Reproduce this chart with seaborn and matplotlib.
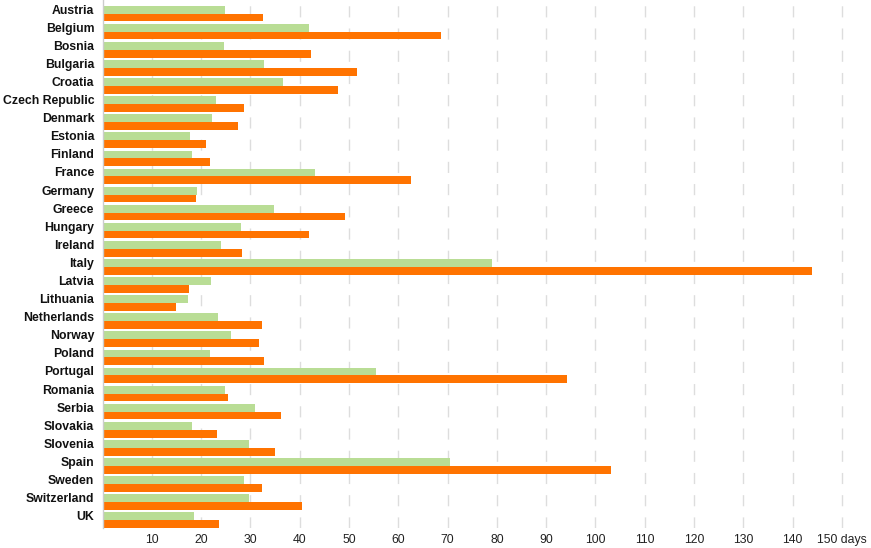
import matplotlib
matplotlib.use("Agg")
import matplotlib.pyplot as plt
import matplotlib.transforms as mtransforms
import seaborn as sns
import pandas as pd

countries = ["Austria", "Belgium", "Bosnia", "Bulgaria", "Croatia", "Czech Republic",
             "Denmark", "Estonia", "Finland", "France", "Germany", "Greece", "Hungary",
             "Ireland", "Italy", "Latvia", "Lithuania", "Netherlands", "Norway", "Poland",
             "Portugal", "Romania", "Serbia", "Slovakia", "Slovenia", "Spain", "Sweden",
             "Switzerland", "UK"]
series_green = [24.8, 41.9, 24.6, 32.7, 36.6, 23.0, 22.2, 17.7, 18.1, 43.1, 19.1, 34.8, 28.1,
                24.0, 79.0, 22.0, 17.3, 23.4, 26.0, 21.8, 55.4, 24.8, 30.9, 18.1, 29.7, 70.5,
                28.7, 29.7, 18.5]
series_orange = [32.5, 68.6, 42.3, 51.6, 47.8, 28.7, 27.5, 21.0, 21.8, 62.6, 18.9, 49.2, 41.9,
                 28.3, 143.9, 17.5, 14.9, 32.3, 31.7, 32.7, 94.2, 25.4, 36.2, 23.2, 35.0, 103.1,
                 32.3, 40.4, 23.6]
series_names = ["Series A", "Series B"]
x_ticks = [10, 20, 30, 40, 50, 60, 70, 80, 90, 100, 110, 120, 130, 140, 150]
x_tick_labels = ["10", "20", "30", "40", "50", "60", "70", "80", "90", "100", "110", "120",
                 "130", "140", "150 days"]

df = pd.DataFrame({
    "country": countries * 2,
    "days": series_green + series_orange,
    "series": [series_names[0]] * len(countries) + [series_names[1]] * len(countries),
})

sns.set_theme(style="white")
plt.rcParams["font.family"] = ["Liberation Sans", "DejaVu Sans"]

fig = plt.figure(figsize=(8.71, 5.48), dpi=100)
ax = fig.add_axes([0.1178, 0.0365, 0.877, 0.9635])

sns.barplot(data=df, y="country", x="days", hue="series", orient="h",
            palette=["#b9dd95", "#ff7300"], saturation=1, width=0.86, gap=0, dodge=True,
            edgecolor="none", legend=False, ax=ax, zorder=2)

ax.set_xlim(0, 155)
n = len(countries)
ax.set_ylim(n - 1 + 0.43, -0.75)
ax.set_xticks(x_ticks)
ax.set_xticklabels(x_tick_labels, fontsize=8.8, color="#222222")
ax.tick_params(axis="x", length=0, pad=4)
ax.tick_params(axis="y", length=0, pad=6)
for lbl in ax.get_yticklabels():
    lbl.set_fontweight("bold")
    lbl.set_fontsize(8.8)
    lbl.set_color("#111111")
    lbl.set_transform(lbl.get_transform() + mtransforms.ScaledTranslation(0, 4.5 / 100, fig.dpi_scale_trans))
ax.set_xlabel("")
ax.set_ylabel("")
ax.xaxis.grid(True, color="#dddddd", linestyle=(0, (8, 8)), linewidth=1, zorder=0)
ax.yaxis.grid(False)
for s in ["top", "right", "bottom"]:
    ax.spines[s].set_visible(False)
ax.spines["left"].set_color("#cccccc")
ax.spines["left"].set_linewidth(1)
ax.set_axisbelow(True)

fig.savefig("out.png", dpi=100)
